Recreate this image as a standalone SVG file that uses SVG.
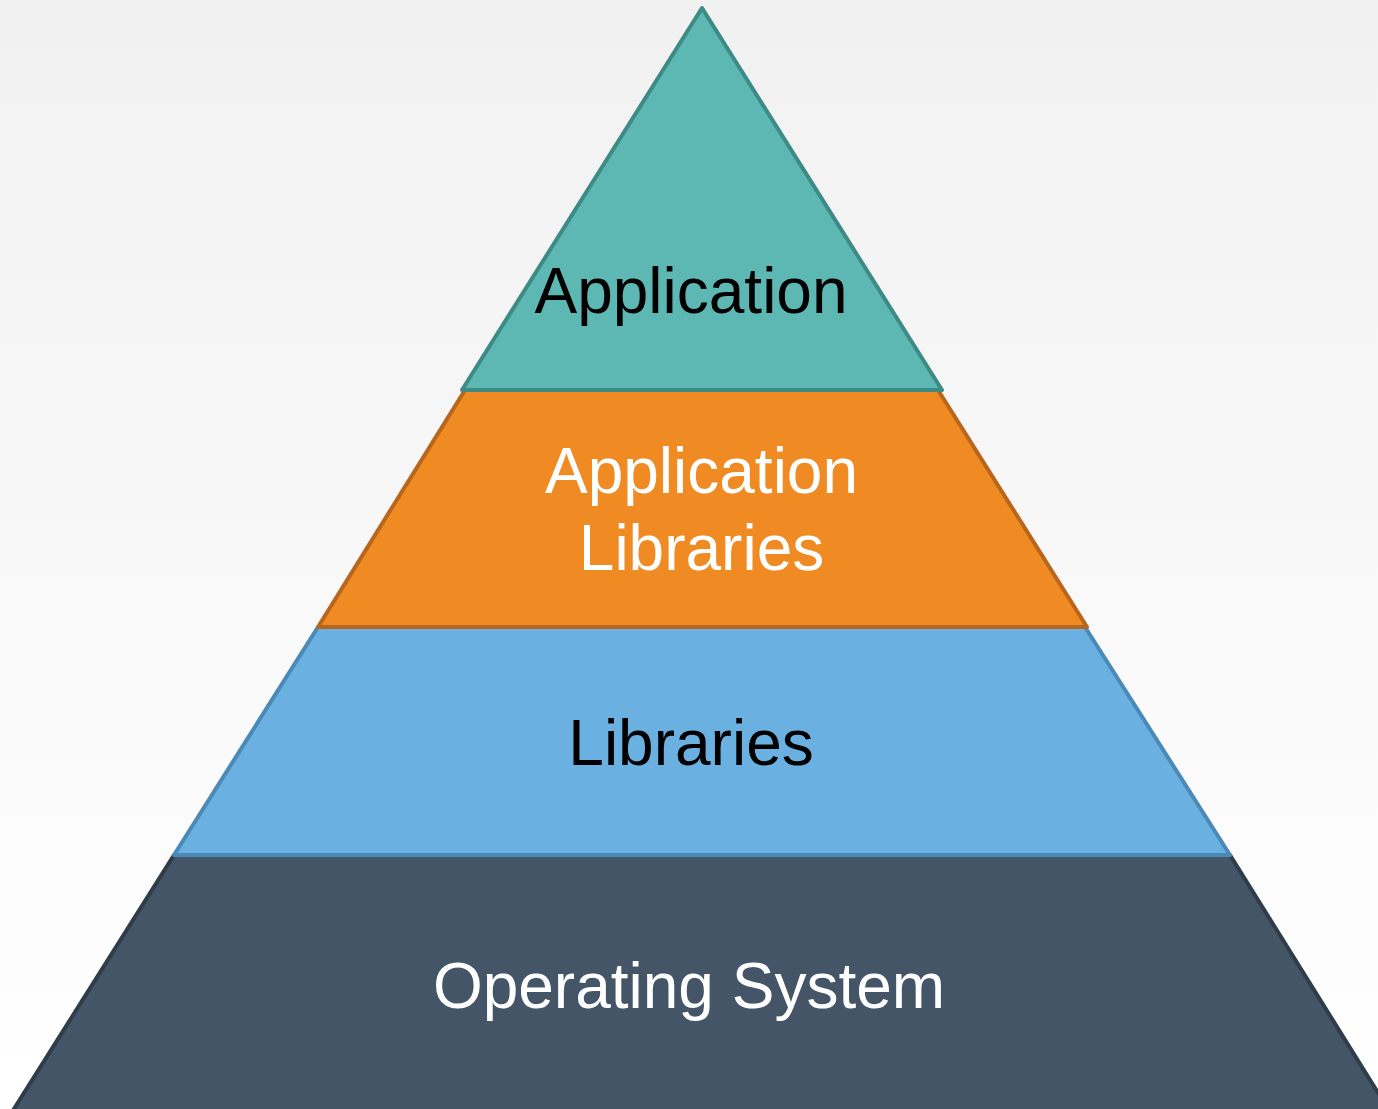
<svg xmlns="http://www.w3.org/2000/svg" width="1378" height="1109" viewBox="0 0 1378 1109">
<defs>
<linearGradient id="bg" x1="0" y1="0" x2="0" y2="1">
<stop offset="0" stop-color="#f1f1f1"/>
<stop offset="1" stop-color="#ffffff"/>
</linearGradient>
<style>
.lbl{font-family:"Liberation Sans",Arial,sans-serif;font-size:64px;text-anchor:middle}
.layer{stroke-width:4;stroke-linejoin:round}
</style>
</defs>
<rect x="0" y="0" width="1378" height="1109" fill="url(#bg)"/>
<g id="os">
<polygon class="layer" points="174,855 1230,855 1390,1112 12,1112" fill="#435566" stroke="#2f3d4a"/>
<text class="lbl" x="689" y="1008" fill="#ffffff">Operating System</text>
</g>
<g id="libraries">
<polygon class="layer" points="318,627 1085,627 1230,855 174,855" fill="#6ab0e1" stroke="#4b8ab6"/>
<text class="lbl" x="691" y="765" fill="#000000">Libraries</text>
</g>
<g id="app-libraries">
<polygon class="layer" points="465,390 938,390 1087,627 318,627" fill="#f08b23" stroke="#b8661d"/>
<text class="lbl" x="701.5" y="493" fill="#ffffff">Application</text>
<text class="lbl" x="701.5" y="570" fill="#ffffff">Libraries</text>
</g>
<g id="application">
<polygon class="layer" points="702,8 942,390 462,390" fill="#5db7b3" stroke="#3e8a85"/>
<text class="lbl" x="691" y="313" fill="#000000">Application</text>
</g>
<g id="connectors"></g>
</svg>
